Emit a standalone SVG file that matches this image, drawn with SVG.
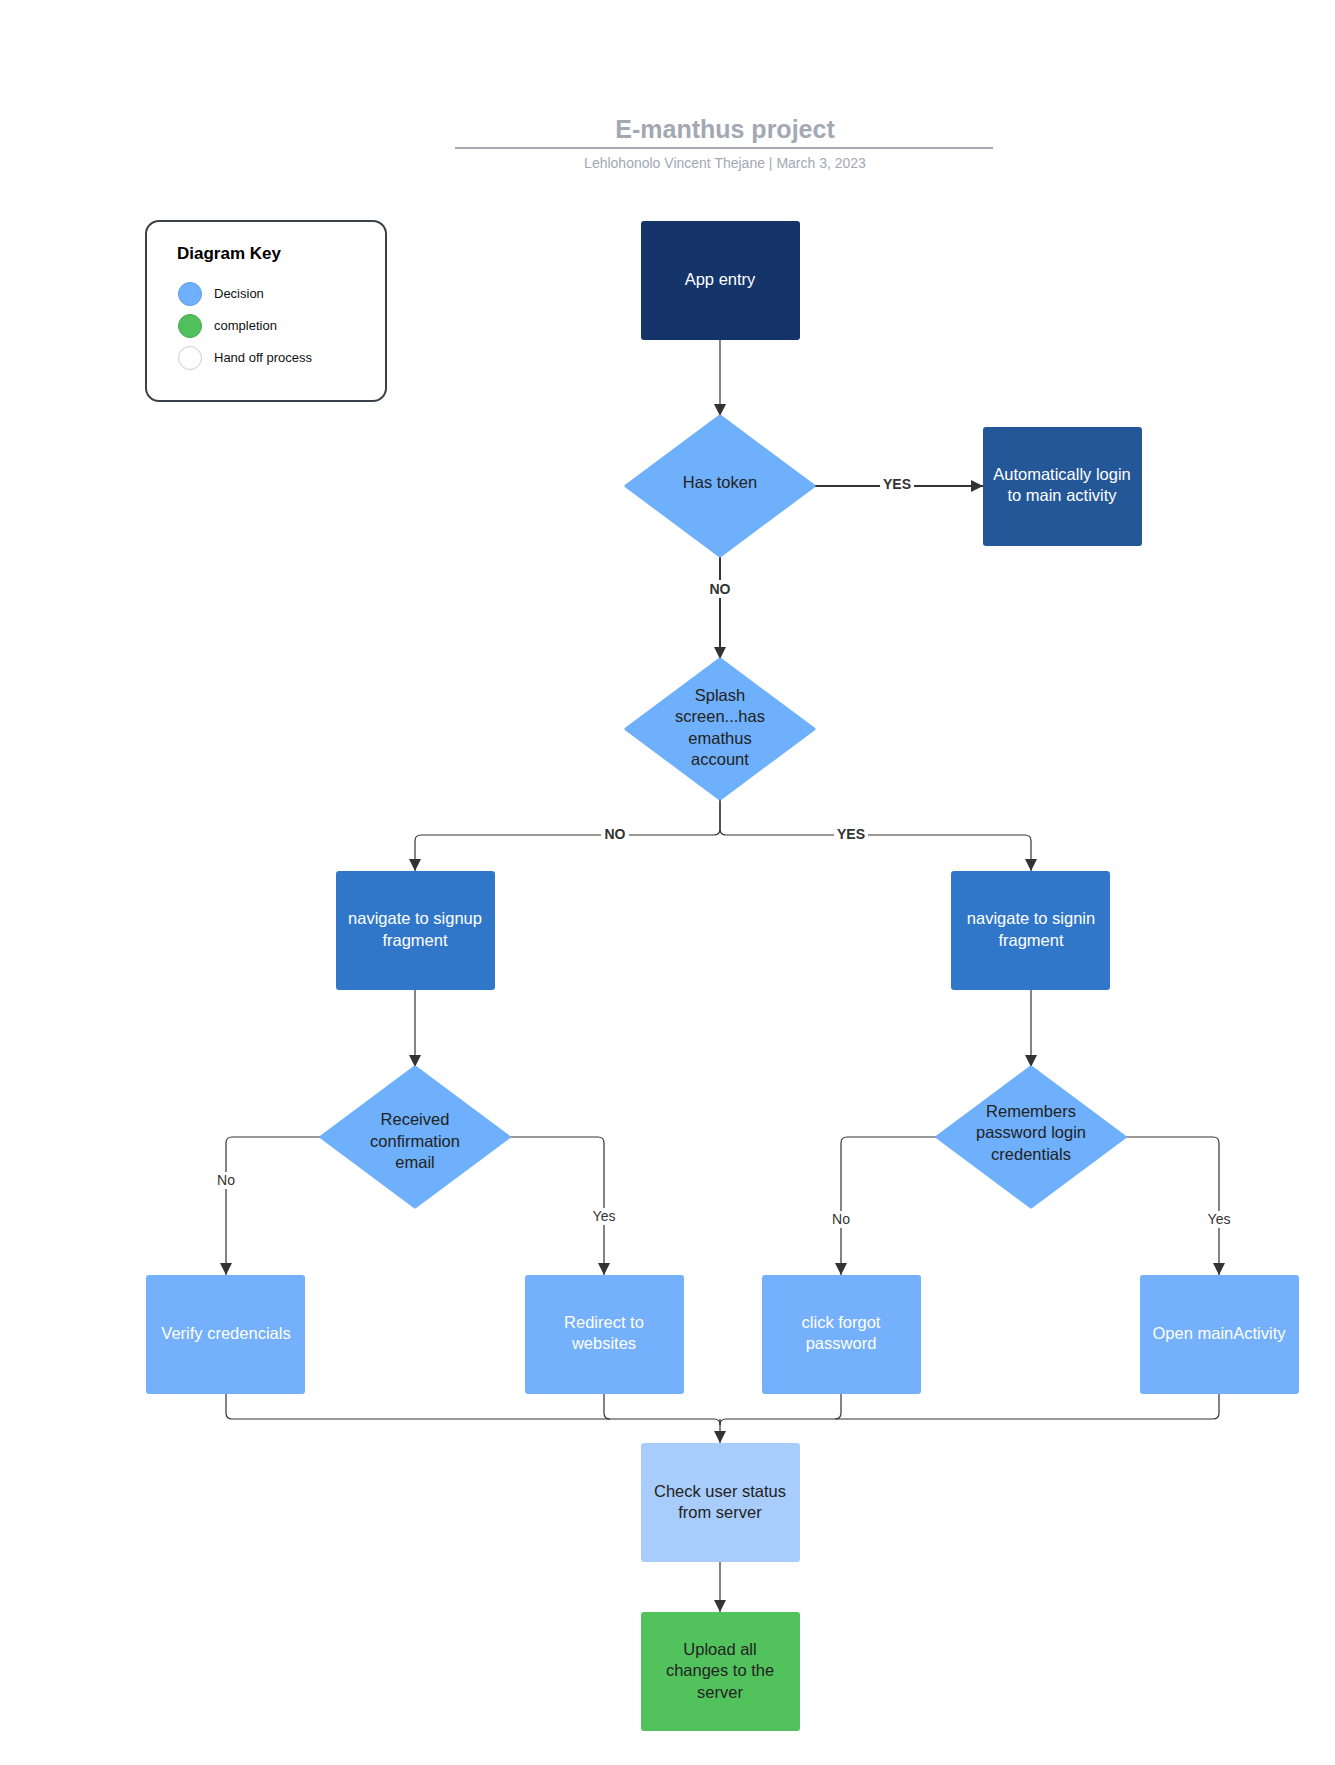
<svg xmlns="http://www.w3.org/2000/svg" width="1335" height="1765" viewBox="0 0 1335 1765">
<defs>
<marker id="ah" viewBox="0 0 10 10" refX="10" refY="5" markerWidth="12" markerHeight="12" markerUnits="userSpaceOnUse" orient="auto"><path d="M0,0 L10,5 L0,10 z" fill="#333"/></marker>
<style>
text{font-family:"Liberation Sans",Arial,sans-serif;text-anchor:middle}
.c{fill:none;stroke:#333;stroke-width:1.2;marker-end:url(#ah)}
.ct{fill:none;stroke:#333;stroke-width:2;marker-end:url(#ah)}
.l{fill:none;stroke:#333;stroke-width:1.2}
.w{fill:#fff;font-size:16.5px}
.d{fill:#222;font-size:16.5px}
.lb{font-size:14px;fill:#333;font-weight:bold}
.ls{font-size:14px;fill:#333}
.k{font-size:13px;fill:#111;text-anchor:start}
</style>
</defs>
<rect width="1335" height="1765" fill="#fff"/>
<g id="title">
<text x="725" y="138" font-size="25" font-weight="bold" fill="#a3a8b3">E-manthus project</text>
<line x1="455" y1="148" x2="993" y2="148" stroke="#a3a8b3" stroke-width="2"/>
<text x="725" y="168" font-size="14" fill="#a3a8b3">Lehlohonolo Vincent Thejane  |  March 3, 2023</text>
</g>
<g id="legend">
<rect x="146" y="221" width="240" height="180" rx="13" fill="#fff" stroke="#3a414a" stroke-width="2"/>
<text x="177" y="259" font-size="17" font-weight="bold" fill="#000" style="text-anchor:start">Diagram Key</text>
<circle cx="190" cy="294" r="11.5" fill="#6eb0fb" stroke="#5b9be6"/>
<text class="k" x="214" y="298">Decision</text>
<circle cx="190" cy="326" r="11.5" fill="#51c05c" stroke="#45a84f"/>
<text class="k" x="214" y="330">completion</text>
<circle cx="190" cy="358" r="11.5" fill="#fff" stroke="#ccc"/>
<text class="k" x="214" y="362">Hand off  process</text>
</g>
<g id="connectors">
<line class="c" x1="720" y1="340" x2="720" y2="416"/>
<line class="ct" x1="814" y1="486" x2="983" y2="486"/>
<line class="ct" x1="720" y1="556" x2="720" y2="659"/>
<path class="c" d="M720,799 V829 Q720,835 714,835 H421 Q415,835 415,841 V871"/>
<path class="c" d="M720,799 V829 Q720,835 726,835 H1025 Q1031,835 1031,841 V871"/>
<line class="c" x1="415" y1="990" x2="415" y2="1067"/>
<line class="c" x1="1031" y1="990" x2="1031" y2="1067"/>
<path class="c" d="M321,1137 H232 Q226,1137 226,1143 V1275"/>
<path class="c" d="M509,1137 H598 Q604,1137 604,1143 V1275"/>
<path class="c" d="M937,1137 H847 Q841,1137 841,1143 V1275"/>
<path class="c" d="M1125,1137 H1213 Q1219,1137 1219,1143 V1275"/>
<path class="l" d="M226,1393 V1413 Q226,1419 232,1419 H714 Q720,1419 720,1425"/>
<path class="l" d="M604,1393 V1413 Q604,1419 610,1419"/>
<path class="l" d="M841,1393 V1413 Q841,1419 835,1419"/>
<path class="l" d="M1219,1393 V1413 Q1219,1419 1213,1419 H726 Q720,1419 720,1425"/>
<line class="c" x1="720" y1="1419" x2="720" y2="1443"/>
<line class="c" x1="720" y1="1562" x2="720" y2="1612"/>
<rect x="880" y="475" width="34" height="18" fill="#fff"/><text class="lb" x="897" y="489">YES</text>
<rect x="706" y="580" width="28" height="18" fill="#fff"/><text class="lb" x="720" y="594">NO</text>
<rect x="601" y="826" width="28" height="18" fill="#fff"/><text class="lb" x="615" y="839">NO</text>
<rect x="834" y="826" width="34" height="18" fill="#fff"/><text class="lb" x="851" y="839">YES</text>
<rect x="212" y="1172" width="28" height="17" fill="#fff"/><text class="ls" x="226" y="1185">No</text>
<rect x="588" y="1208" width="32" height="17" fill="#fff"/><text class="ls" x="604" y="1221">Yes</text>
<rect x="827" y="1211" width="28" height="17" fill="#fff"/><text class="ls" x="841" y="1224">No</text>
<rect x="1203" y="1211" width="32" height="17" fill="#fff"/><text class="ls" x="1219" y="1224">Yes</text>
</g>
<g id="app-entry"><rect x="641" y="221" width="159" height="119" rx="3" fill="#14346a"/><text class="w" x="720" y="285">App entry</text></g>
<g id="has-token"><path d="M720,416 L814,486 L720,556 L626,486 Z" fill="#6eb0fb" stroke="#6eb0fb" stroke-width="3" stroke-linejoin="round"/><text class="d" x="720" y="488">Has token</text></g>
<g id="auto-login"><rect x="983" y="427" width="159" height="119" rx="3" fill="#235797"/><text class="w" x="1062" y="480">Automatically login</text><text class="w" x="1062" y="501">to main activity</text></g>
<g id="splash"><path d="M720,659 L814,729 L720,799 L626,729 Z" fill="#6eb0fb" stroke="#6eb0fb" stroke-width="3" stroke-linejoin="round"/><text class="d" x="720" y="701">Splash</text><text class="d" x="720" y="722">screen...has</text><text class="d" x="720" y="744">emathus</text><text class="d" x="720" y="765">account</text></g>
<g id="signup"><rect x="336" y="871" width="159" height="119" rx="3" fill="#3077c9"/><text class="w" x="415" y="924">navigate to signup</text><text class="w" x="415" y="946">fragment</text></g>
<g id="signin"><rect x="951" y="871" width="159" height="119" rx="3" fill="#3077c9"/><text class="w" x="1031" y="924">navigate to signin</text><text class="w" x="1031" y="946">fragment</text></g>
<g id="received"><path d="M415,1067 L509,1137 L415,1207 L321,1137 Z" fill="#6eb0fb" stroke="#6eb0fb" stroke-width="3" stroke-linejoin="round"/><text class="d" x="415" y="1125">Received</text><text class="d" x="415" y="1147">confirmation</text><text class="d" x="415" y="1168">email</text></g>
<g id="remembers"><path d="M1031,1067 L1125,1137 L1031,1207 L937,1137 Z" fill="#6eb0fb" stroke="#6eb0fb" stroke-width="3" stroke-linejoin="round"/><text class="d" x="1031" y="1117">Remembers</text><text class="d" x="1031" y="1138">password login</text><text class="d" x="1031" y="1160">credentials</text></g>
<g id="verify"><rect x="146" y="1275" width="159" height="119" rx="3" fill="#75b0fc"/><text class="w" x="226" y="1339">Verify credencials</text></g>
<g id="redirect"><rect x="525" y="1275" width="159" height="119" rx="3" fill="#75b0fc"/><text class="w" x="604" y="1328">Redirect to</text><text class="w" x="604" y="1349">websites</text></g>
<g id="forgot"><rect x="762" y="1275" width="159" height="119" rx="3" fill="#75b0fc"/><text class="w" x="841" y="1328">click forgot</text><text class="w" x="841" y="1349">password</text></g>
<g id="open-main"><rect x="1140" y="1275" width="159" height="119" rx="3" fill="#75b0fc"/><text class="w" x="1219" y="1339">Open mainActivity</text></g>
<g id="check-status"><rect x="641" y="1443" width="159" height="119" rx="3" fill="#a8cdfc"/><text class="d" x="720" y="1497">Check user status</text><text class="d" x="720" y="1518">from server</text></g>
<g id="upload"><rect x="641" y="1612" width="159" height="119" rx="3" fill="#52c25c"/><text class="d" x="720" y="1655">Upload all</text><text class="d" x="720" y="1676">changes to the</text><text class="d" x="720" y="1698">server</text></g>
</svg>
